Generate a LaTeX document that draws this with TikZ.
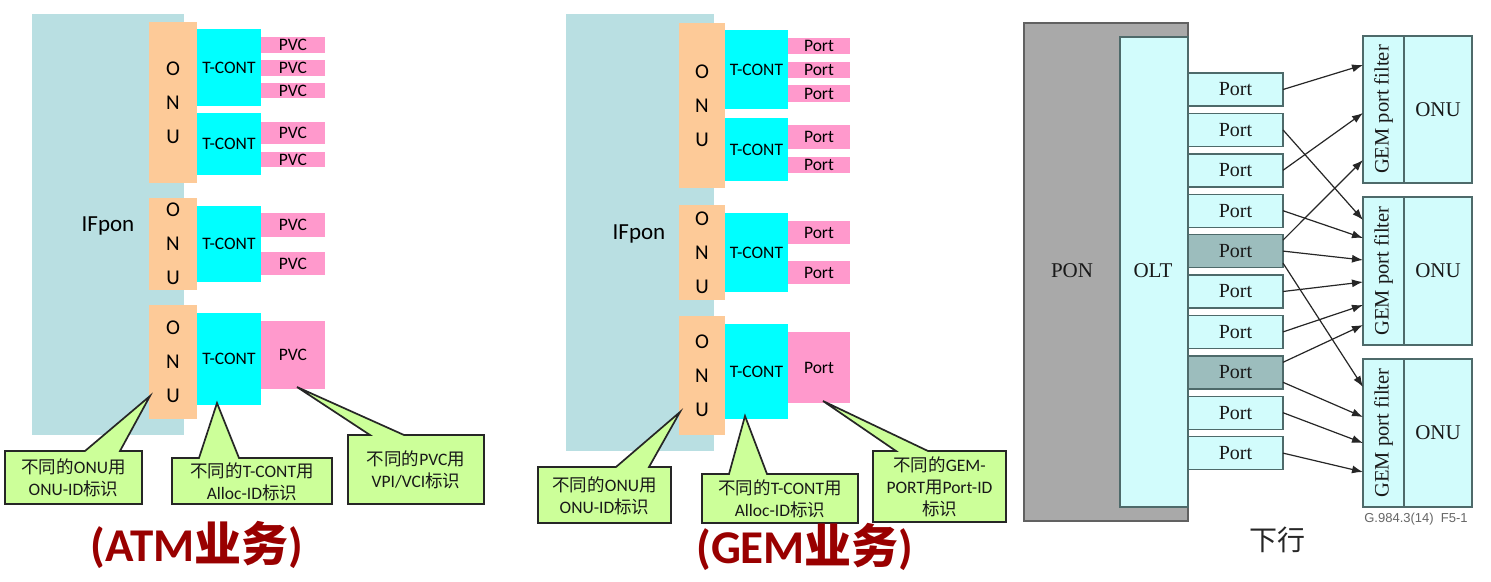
\documentclass[tikz,border=0pt]{standalone}
\usepackage{fontspec}
\setmainfont{Carlito}
\newfontfamily\cjk{Noto Sans CJK SC}
\newfontfamily\tms{Liberation Serif}
\newfontfamily\arl{Liberation Sans}
\usetikzlibrary{arrows.meta,calc}
\definecolor{ifbg}{HTML}{B9DFE2}
\definecolor{onuc}{HTML}{FDCA98}
\definecolor{tcc}{HTML}{00FFFF}
\definecolor{pvcc}{HTML}{FF99CC}
\definecolor{callc}{HTML}{CCFF99}
\definecolor{titc}{HTML}{990000}
\definecolor{ponc}{HTML}{A9A9A9}
\definecolor{oltc}{HTML}{D2FCFC}
\definecolor{portd}{HTML}{9CBDBD}
\definecolor{edgec}{HTML}{4E6A6A}
\newcommand\bx[7]{\pgfmathsetmacro\bw{#5-#3}\pgfmathsetmacro\bh{#6-#4}%
  \node[#1,minimum width=\bw pt,minimum height=\bh pt,anchor=north west] (#2) at (#3,#4) {#7};}
\newcommand\zh[1]{{\cjk #1}}
\tikzset{
  every node/.style={inner sep=0pt, outer sep=0pt},
  ifbox/.style={fill=ifbg},
  onubox/.style={fill=onuc, align=center, font=\fontsize{21}{34}\selectfont},
  tcbox/.style={fill=tcc, font=\fontsize{17.5}{20}\selectfont},
  pvcbox/.style={fill=pvcc, font=\fontsize{17.5}{20}\selectfont},
  iflabel/.style={font=\fontsize{23}{26}\selectfont},
  callout/.style={fill=callc, draw=black!85, line width=1.7pt, line join=miter},
  calltext/.style={align=center, font=\fontsize{17.5}{22}\selectfont, text=black!90},
  title/.style={text=titc, font=\fontsize{47}{52}\selectfont\bfseries},
  ponbox/.style={fill=ponc, draw=black!62, line width=1.4pt},
  oltbox/.style={fill=oltc, draw=edgec, line width=1.4pt},
  portbox/.style={fill=oltc, draw=edgec, line width=1.4pt, font=\fontsize{20}{22}\selectfont\tms, text=black!90},
  portdark/.style={portbox, fill=portd},
  onur/.style={fill=oltc, draw=edgec, line width=1.4pt},
  filt/.style={draw=edgec, line width=1.4pt, font=\fontsize{20.5}{22}\selectfont\tms, text=black!90},
  rlabel/.style={font=\fontsize{21}{24}\selectfont\tms, text=black!90},
  arr/.style={draw=black!85, line width=1.2pt, -{Latex[length=11pt,width=8pt]}}
}
\begin{document}
\begin{tikzpicture}[x=1pt,y=-1pt]
\useasboundingbox[fill=white] (0,0) rectangle (1491,581);
% ================= ATM panel =================
\bx{ifbox}{ifa}{32}{14}{184}{435}{}
\node[iflabel] (ifal) at (108,226) {IFpon};
\bx{onubox}{onua1}{149}{22}{197}{183}{O\\N\\U}
\bx{onubox}{onua2}{149}{198}{197}{290}{O\\N\\U}
\bx{onubox}{onua3}{149}{305}{197}{419}{O\\N\\U}
\bx{tcbox}{tca1}{197}{29}{261}{106}{T-CONT}
\bx{tcbox}{tca2}{197}{113}{261}{175}{T-CONT}
\bx{tcbox}{tca3}{197}{206}{261}{282}{T-CONT}
\bx{tcbox}{tca4}{197}{313}{261}{405}{T-CONT}
\bx{pvcbox}{pv1}{261}{37}{325}{53}{PVC}
\bx{pvcbox}{pv2}{261}{60}{325}{76}{PVC}
\bx{pvcbox}{pv3}{261}{83}{325}{98}{PVC}
\bx{pvcbox}{pv4}{261}{122}{325}{144}{PVC}
\bx{pvcbox}{pv5}{261}{152}{325}{167}{PVC}
\bx{pvcbox}{pv6}{261}{213}{325}{237}{PVC}
\bx{pvcbox}{pv7}{261}{252}{325}{275}{PVC}
\bx{pvcbox}{pv8}{261}{321}{325}{389}{PVC}
\coordinate (ta1) at (150,396);
\coordinate (ta2) at (217,403);
\coordinate (ta3) at (297,387);
\draw[callout] (5,451) -- (85,451) -- (ta1) -- (120,451) -- (142,451) -- (142,504) -- (5,504) -- cycle;
\draw[callout] (172,458) -- (199,458) -- (ta2) -- (239,458) -- (332,458) -- (332,504) -- (172,504) -- cycle;
\draw[callout] (348,435) -- (370,435) -- (ta3) -- (404,435) -- (484,435) -- (484,504) -- (348,504) -- cycle;
\node[calltext] (ca1) at (73.5,478) {\zh{不同的}ONU\zh{用}\\ONU-ID\zh{标识}};
\node[calltext] (ca2) at (252,482) {\zh{不同的}T-CONT\zh{用}\\Alloc-ID\zh{标识}};
\node[calltext] (ca3) at (416,470) {\zh{不同的}PVC\zh{用}\\VPI/VCI\zh{标识}};
\node[title] (tatm) at (197,545) {(ATM{\cjk\bfseries 业务})};
% ================= GEM panel =================
\bx{ifbox}{ifg}{566}{14}{714}{451}{}
\node[iflabel] (ifgl) at (639,234) {IFpon};
\bx{onubox}{onug1}{679}{23}{725}{188}{O\\N\\U}
\bx{onubox}{onug2}{679}{205}{725}{300}{O\\N\\U}
\bx{onubox}{onug3}{679}{316}{725}{435}{O\\N\\U}
\bx{tcbox}{tcg1}{725}{30}{788}{109}{T-CONT}
\bx{tcbox}{tcg2}{725}{118}{788}{181}{T-CONT}
\bx{tcbox}{tcg3}{725}{213}{788}{292}{T-CONT}
\bx{tcbox}{tcg4}{725}{324}{788}{419}{T-CONT}
\bx{pvcbox}{pg1}{788}{38}{850}{54}{Port}
\bx{pvcbox}{pg2}{788}{62}{850}{78}{Port}
\bx{pvcbox}{pg3}{788}{85}{850}{102}{Port}
\bx{pvcbox}{pg4}{788}{125}{850}{149}{Port}
\bx{pvcbox}{pg5}{788}{157}{850}{173}{Port}
\bx{pvcbox}{pg6}{788}{221}{850}{244}{Port}
\bx{pvcbox}{pg7}{788}{261}{850}{284}{Port}
\bx{pvcbox}{pg8}{788}{332}{850}{403}{Port}
\coordinate (tg1) at (680,412);
\coordinate (tg2) at (745,416);
\coordinate (tg3) at (823,401);
\draw[callout] (538,467) -- (616,467) -- (tg1) -- (649,467) -- (671,467) -- (671,523) -- (538,523) -- cycle;
\draw[callout] (702,474) -- (729,474) -- (tg2) -- (767,474) -- (858,474) -- (858,523) -- (702,523) -- cycle;
\draw[callout] (873,451) -- (896,451) -- (tg3) -- (928,451) -- (1006,451) -- (1006,522) -- (873,522) -- cycle;
\node[calltext] (cg1) at (604.5,495.5) {\zh{不同的}ONU\zh{用}\\ONU-ID\zh{标识}};
\node[calltext] (cg2) at (780,499) {\zh{不同的}T-CONT\zh{用}\\Alloc-ID\zh{标识}};
\node[calltext] (cg3) at (939.5,487) {\zh{不同的}GEM-\\PORT\zh{用}Port-ID\\\zh{标识}};
\node[title] (tgem) at (805,547) {(GEM{\cjk\bfseries 业务})};
% ================= Downstream panel =================
\bx{ponbox}{pon}{1024}{23}{1188}{521}{}
\bx{oltbox}{olt}{1120}{37}{1188}{507}{}
\node[rlabel] (ponl) at (1072,271) {PON};
\node[rlabel] (oltl) at (1153,271) {OLT};
\bx{portbox}{p1}{1188}{73}{1283}{106}{Port}
\bx{portbox}{p2}{1188}{113.4}{1283}{146.4}{Port}
\bx{portbox}{p3}{1188}{153.8}{1283}{186.8}{Port}
\bx{portbox}{p4}{1188}{194.2}{1283}{227.2}{Port}
\bx{portdark}{p5}{1188}{234.6}{1283}{267.6}{Port}
\bx{portbox}{p6}{1188}{275}{1283}{308}{Port}
\bx{portbox}{p7}{1188}{315.4}{1283}{348.4}{Port}
\bx{portdark}{p8}{1188}{355.8}{1283}{388.8}{Port}
\bx{portbox}{p9}{1188}{396.2}{1283}{429.2}{Port}
\bx{portbox}{p10}{1188}{436.6}{1283}{469.6}{Port}
\bx{onur}{o1}{1363}{36}{1472}{183}{}
\bx{onur}{o2}{1363}{197}{1472}{345}{}
\bx{onur}{o3}{1363}{359}{1472}{507}{}
\bx{filt}{f1}{1363}{36}{1404}{183}{\rotatebox{90}{GEM port filter}}
\bx{filt}{f2}{1363}{197}{1404}{345}{\rotatebox{90}{GEM port filter}}
\bx{filt}{f3}{1363}{359}{1404}{507}{\rotatebox{90}{GEM port filter}}
\node[rlabel] (ol1) at (1438,110) {ONU};
\node[rlabel] (ol2) at (1438,271) {ONU};
\node[rlabel] (ol3) at (1438,433) {ONU};
\draw[arr] (p1.east) -- ([yshift=44.5pt]f1.west);
\draw[arr] (p2.east) -- ([yshift=51pt]f2.west);
\draw[arr] (p3.east) -- ([yshift=-3.5pt]f1.west);
\draw[arr] (p4.east) -- ([yshift=33pt]f2.west);
\draw[arr] ([yshift=11pt]p5.east) -- ([yshift=-50.5pt]f1.west);
\draw[arr] (p5.east) -- ([yshift=11pt]f2.west);
\draw[arr] ([yshift=-12pt]p5.east) -- ([yshift=46pt]f3.west);
\draw[arr] (p6.east) -- ([yshift=-11pt]f2.west);
\draw[arr] (p7.east) -- ([yshift=-34pt]f2.west);
\draw[arr] ([yshift=10pt]p8.east) -- ([yshift=-54pt]f2.west);
\draw[arr] ([yshift=-10pt]p8.east) -- ([yshift=16pt]f3.west);
\draw[arr] (p9.east) -- ([yshift=-10pt]f3.west);
\draw[arr] (p10.east) -- ([yshift=-39pt]f3.west);
\node[font=\fontsize{13}{15}\selectfont\arl, text=black!60] (src) at (1416,519) {G.984.3(14)\ \ F5-1};
\node[font=\fontsize{28}{30}\selectfont\cjk, text=black!85] (down) at (1277,540) {下行};
\end{tikzpicture}
\end{document}
